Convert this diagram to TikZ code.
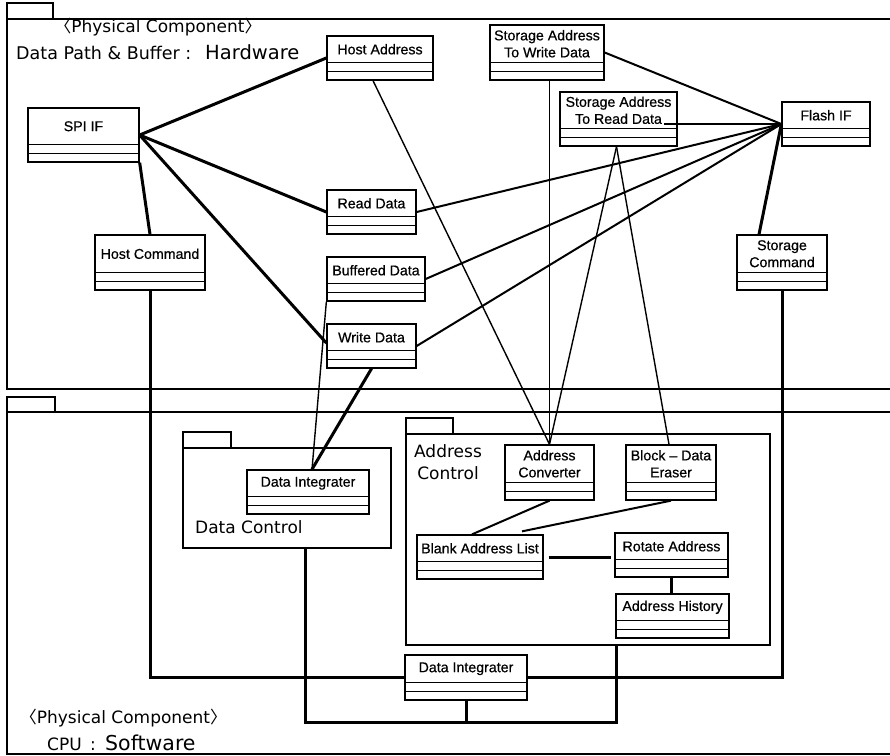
\documentclass[tikz,border=0pt]{standalone}
\usepackage{fontspec}
\setmainfont{Liberation Sans}
\newfontfamily\nodefont[FakeBold=0.6]{Liberation Sans}
\newfontfamily\lblfont{DejaVu Sans}
\newfontfamily\cjkfont{Noto Sans CJK KR}
\usetikzlibrary{fit,calc}
\tikzset{
  ubox/.style={draw, line width=1.3pt, inner sep=0pt},
  utext/.style={font=\nodefont\fontsize{14.2}{17}\selectfont, align=center, inner sep=0pt},
  pkg/.style={draw, line width=1.3pt, inner sep=0pt},
  lbl/.style={inner sep=0pt, font=\lblfont\fontsize{17}{22}\selectfont},
  thickc/.style={line width=3pt},
  medc/.style={line width=2pt},
  thinc/.style={line width=1.4pt},
}
\newcommand\umlc[6]{%
  \node[ubox, fit={(#2,#3) (#4,#5)}] (#1) {};
  \draw[line width=1.3pt] (#2,#5-17.5) -- (#4,#5-17.5);
  \draw[line width=1.3pt] (#2,#5-8.7) -- (#4,#5-8.7);
  \node[utext] (#1-t) at ({(#2+#4)/2},{(#3+#5-17.5)/2}) {#6};
}
\begin{document}
\begin{tikzpicture}[x=1pt,y=-1pt]
\useasboundingbox (0,0) rectangle (890,755);
% outer packages
\node[pkg, fit={(7,3) (53,19)}] (hwtab) {};
\draw[pkg] (890,19) -- (7,19) -- (7,389) -- (890,389);
\node[pkg, fit={(7,397) (55,412)}] (swtab) {};
\draw[pkg] (890,412) -- (7,412) -- (7,754) -- (890,754);
% inner packages
\node[pkg, fit={(183,432) (231,448)}] (dctab) {};
\node[pkg, fit={(183,448) (391,548)}] (dc) {};
\node[pkg, fit={(406,418) (453,434)}] (actab) {};
\node[pkg, fit={(406,434) (770,645)}] (ac) {};
% labels
\node[lbl, anchor=base] (phys1) at (158,32) {{\cjkfont 〈}Physical Component{\cjkfont 〉}};
\node[lbl, anchor=base west, font=\lblfont\fontsize{17.5}{20}\selectfont] (dp) at (16,59) {Data Path \& Buffer :};
\node[lbl, anchor=base west, font=\lblfont\fontsize{19.5}{22}\selectfont] (hw) at (205,59) {Hardware};
\node[lbl, anchor=base] (phys2) at (123.5,723) {{\cjkfont 〈}Physical Component{\cjkfont 〉}};
\node[lbl, anchor=base west] (cpu) at (47,750) {CPU};
\node[lbl, anchor=base west] (colon) at (90,750) {:};
\node[lbl, anchor=base west, font=\lblfont\fontsize{20.5}{22}\selectfont] (sw) at (105,750) {Software};
\node[lbl, anchor=base west] (dclbl) at (195,533) {Data Control};
\node[lbl, align=center] (aclbl) at (448,462) {Address\\Control};
% classes
\umlc{hostaddr}{327}{36}{433}{80}{Host Address}
\umlc{spiif}{28}{108}{139}{162}{SPI IF}
\umlc{saw}{490}{25}{604}{80}{Storage Address\\To Write Data}
\umlc{sar}{560}{92}{677}{146}{Storage Address\\To Read Data}
\umlc{flash}{782}{102}{870}{146}{Flash IF}
\umlc{readdata}{327}{190}{416}{234}{Read Data}
\umlc{hostcmd}{95}{235}{205}{290}{Host Command}
\umlc{buffered}{327}{257}{425}{301}{Buffered Data}
\umlc{writedata}{327}{324}{416}{368}{Write Data}
\umlc{storcmd}{737}{235}{827}{290}{Storage\\Command}
\umlc{di1}{247}{470}{369}{514}{Data Integrater}
\umlc{addrconv}{505}{445}{594}{500}{Address\\Converter}
\umlc{blockeraser}{626}{445}{716}{500}{Block – Data\\Eraser}
\umlc{blank}{417}{535}{543}{579}{Blank Address List}
\umlc{rotate}{615}{533}{728}{577}{Rotate Address}
\umlc{history}{616}{594}{729}{638}{Address History}
\umlc{di2}{405}{655}{527}{700}{Data Integrater}
% connectors
\draw[thickc] (spiif.east) -- (hostaddr.west);
\draw[thickc] (spiif.east) -- (readdata.west);
\draw[thickc] (spiif.east) -- ([yshift=3pt]writedata.west);
\draw[thickc] (spiif.south east) -- (hostcmd.north);
\draw[thickc] (hostcmd.south) |- (di2.west);
\draw[thickc] (storcmd.south) |- (di2.east);
\draw[thickc] (flash.west) -- ([xshift=-23pt]storcmd.north);
\draw[medc] (flash.west) -- (readdata.east);
\draw[medc] (flash.west) -- (buffered.east);
\draw[medc] (flash.west) -- (writedata.east);
\draw[medc] (saw.east) -- (flash.west);
\coordinate (sarend) at (664,124);
\draw[medc] (sarend) -- (flash.west);
\draw[thinc] ([xshift=-7pt]hostaddr.south) -- (addrconv.north);
\draw[thinc] (addrconv.north |- saw.south) -- (addrconv.north);
\draw[thinc] ([xshift=-2pt]sar.south) -- (addrconv.north);
\draw[thinc] ([xshift=-2pt]sar.south) -- ([xshift=-2pt]blockeraser.north);
\draw[thinc] (buffered.south west) -- ([xshift=4pt]di1.north);
\draw[thickc] (writedata.south) -- ([xshift=4pt]di1.north);
\draw[thickc] ([xshift=18pt]dc.south) -- ++(0,174) -| ([xshift=28pt]ac.south);
\draw[thickc] (di2.south) -- ++(0,22);
\draw[medc] (addrconv.south) -- ([xshift=-8pt]blank.north);
\draw[medc] (blockeraser.south) -- ([xshift=42pt,yshift=3pt]blank.north);
\draw[thickc, shorten <=5pt, shorten >=3pt] (blank.east) -- (blank.east -| rotate.west);
\draw[thickc] (rotate.south) -- (rotate.south |- history.north);
\end{tikzpicture}
\end{document}
